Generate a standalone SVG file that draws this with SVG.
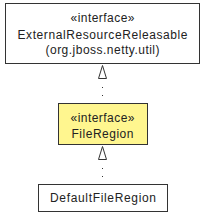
<svg xmlns="http://www.w3.org/2000/svg" width="205" height="216" viewBox="0 0 205 216">
<style>
.box{stroke:#333;stroke-width:1;}
.iface{fill:#fff;}
.hl{fill:#fff68f;}
text{font-family:"Liberation Sans",Arial,sans-serif;font-size:12px;fill:#222;text-anchor:middle;}
.dep{stroke:#333;stroke-width:1;fill:none;stroke-dasharray:1 7;}
.tri{fill:#fff;stroke:#333;stroke-width:1;}
</style>
<rect width="205" height="216" fill="#fff"/>
<g id="ExternalResourceReleasable">
<rect class="box iface" x="5.5" y="3.5" width="194" height="60"/>
<text x="102.5" y="22" textLength="64">«interface»</text>
<text x="102.5" y="39" textLength="170">ExternalResourceReleasable</text>
<text x="102.5" y="54" textLength="114">(org.jboss.netty.util)</text>
</g>
<g id="FileRegion">
<rect class="box hl" x="58.5" y="103.5" width="89" height="41"/>
<text x="102.5" y="122" textLength="64">«interface»</text>
<text x="102.5" y="138" textLength="62">FileRegion</text>
</g>
<g id="DefaultFileRegion">
<rect class="box iface" x="38.5" y="184.5" width="129" height="27"/>
<text x="103" y="202" textLength="106">DefaultFileRegion</text>
</g>
<g id="connectors">
<path class="dep" d="M102.5 87V103"/>
<polygon class="tri" points="102.5,65.5 98.5,78.5 106.5,78.5"/>
<path class="dep" d="M102.5 168V184"/>
<polygon class="tri" points="102.5,146.5 98.5,159.5 106.5,159.5"/>
</g>
</svg>
